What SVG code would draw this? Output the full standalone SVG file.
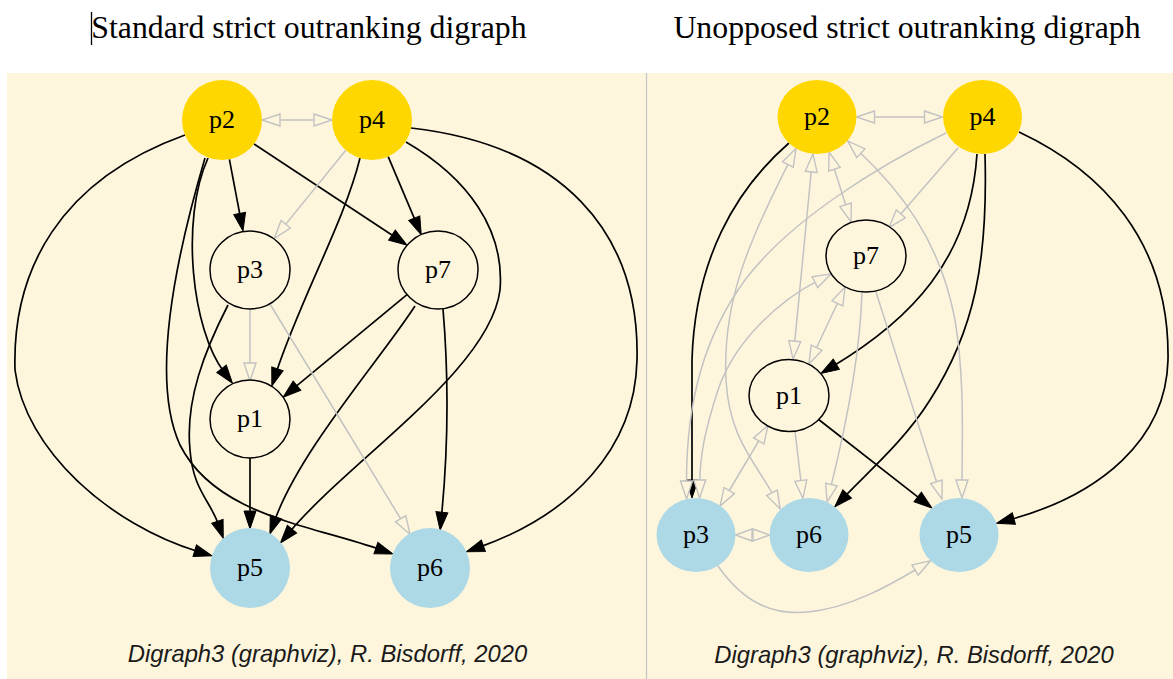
<svg xmlns="http://www.w3.org/2000/svg" width="1173" height="679" viewBox="0 0 1173 679">
<style>
.e{fill:none;stroke:#000;stroke-width:1.7;marker-end:url(#ab)}
.g{fill:none;stroke:#C2C2C2;stroke-width:1.5;marker-end:url(#ag)}
.g2{marker-start:url(#ag)}
.gs{fill:none;stroke:#C2C2C2;stroke-width:1.5;marker-start:url(#ags);marker-end:url(#ags)}
.lbl{font-family:"Liberation Serif","Times New Roman",serif;font-size:26px;text-anchor:middle;fill:#000}
.title{font-family:"Liberation Serif","Times New Roman",serif;font-size:31.8px;text-anchor:middle;fill:#000}
.cap{font-family:"Liberation Sans",Arial,sans-serif;font-style:italic;font-size:23.8px;text-anchor:middle;fill:#1a1a1a}
.gold{fill:#FFD700}
.blue{fill:#ADD8E6}
.out{fill:#FEF6DC;stroke:#000;stroke-width:1.5}
</style>
<defs>
<marker id="ab" markerUnits="userSpaceOnUse" viewBox="-1 -7 20 14" markerWidth="20" markerHeight="14" refX="4" refY="0" orient="auto-start-reverse" overflow="visible">
<path d="M0,-6 L18,0 L0,6 Z" fill="#000" stroke="#000" stroke-width="1"/>
</marker>
<marker id="ag" markerUnits="userSpaceOnUse" viewBox="-1 -7 20 14" markerWidth="20" markerHeight="14" refX="4" refY="0" orient="auto-start-reverse" overflow="visible">
<path d="M0,-6 L18,0 L0,6 Z" fill="#FEF6DC" stroke="#C2C2C2" stroke-width="1.4"/>
</marker>
<marker id="ags" markerUnits="userSpaceOnUse" viewBox="-1 -7 20 14" markerWidth="20" markerHeight="14" refX="0" refY="0" orient="auto-start-reverse" overflow="visible">
<path d="M0,-6 L16.5,0 L0,6 Z" fill="#FEF6DC" stroke="#C2C2C2" stroke-width="1.4"/>
</marker>
</defs>
<rect width="1173" height="679" fill="#fff"/>
<rect x="7" y="73" width="1166" height="606" fill="#FEF6DC"/>
<line x1="646.5" y1="73" x2="646.5" y2="679" stroke="#C4C4C8" stroke-width="1.2"/>
<line x1="91.5" y1="12" x2="91.5" y2="45" stroke="#000" stroke-width="1.3"/>
<text class="title" x="309" y="38">Standard strict outranking digraph</text>
<text class="title" x="907" y="38">Unopposed strict outranking digraph</text>
<text class="cap" x="327.5" y="662">Digraph3 (graphviz), R. Bisdorff, 2020</text>
<text class="cap" x="914" y="663">Digraph3 (graphviz), R. Bisdorff, 2020</text>
<g id="connectors">
<path class="e" d="M185,135 C60,180 12,270 15,370 C25,450 110,525 198.6,551.8"/>
<path class="e" d="M229.4,159.3 L240.4,217.3"/>
<path class="e" d="M254,144 L395.3,237.3"/>
<path class="e" d="M208,158 C180,220 192,330 224,372"/>
<path class="e" d="M205,158 C175,260 150,380 180,445 C215,515 310,525 379.7,549.4"/>
<path class="e" d="M360,158 C345,220 300,300 276.2,372.7"/>
<path class="e" d="M388.2,156.6 L415.8,221.9"/>
<path class="e" d="M406,142 C468,178 505,230 500,290 C490,370 350,460 289.4,532.2"/>
<path class="e" d="M411,128 C560,145 640,230 637,360 C635,450 570,515 479.6,547.1"/>
<path class="e" d="M228,305 C205,350 185,400 190,450 C193,490 210,500 218.7,525.1"/>
<path class="e" d="M407,294.6 L293.9,388.2"/>
<path class="e" d="M415,306 C380,360 300,450 274.6,520.8"/>
<path class="e" d="M443,309 C449,380 448,450 441.5,516.2"/>
<path class="e" d="M250,458 L250,515"/>
<path class="g g2" d="M276,120 L318,120"/>
<path class="g" d="M345.8,150.2 L283.2,227.4"/>
<path class="g" d="M250,309 L250,367"/>
<path class="g" d="M270,304 L402.7,522.2"/>
<path class="e" d="M789,143 C735,190 695,260 692,360 L692,484"/>
<path class="e" d="M977,154 C970,260 910,320 832.9,366.3"/>
<path class="e" d="M985,154 C988,260 975,330 930,400 C905,440 870,470 844.4,496.8"/>
<path class="e" d="M1019,132 C1100,170 1170,240 1168,360 C1166,440 1100,495 1010,519.6"/>
<path class="e" d="M818,419 L920.9,499.4"/>
<path class="g g2" d="M870.5,117 L928.5,117"/>
<path class="g" d="M946,133 C880,165 790,220 745,280 C705,335 686,400 686.5,485"/>
<path class="g" d="M958,148 L898.2,216.9"/>
<path class="g g2" d="M811.6,167.9 L794.4,345.1"/>
<path class="g g2" d="M833.2,165.4 L846.8,208.6"/>
<path class="g g2" d="M789.7,160.9 C750,240 722,300 726,380 C729,440 758,465 773.8,496.4"/>
<path class="g g2" d="M857.9,150.5 C900,190 940,240 955,320 C965,380 962,440 962,484"/>
<path class="g g2" d="M839.1,299.7 L814.9,351.3"/>
<path class="g g2" d="M818.5,280.3 C780,300 735,340 718,390 C705,430 700,455 699.7,484"/>
<path class="g g2" d="M760.8,437.5 L727.2,494"/>
<path class="gs" d="M752,535 L753,535"/>
<path class="g" d="M795,431 L801.3,484.5"/>
<path class="g" d="M862,292 C860,360 845,430 830.5,488.4"/>
<path class="g" d="M876,292 L937.7,485.6"/>
<path class="g" d="M718,566 C745,605 775,615 808,612 C850,608 890,585 918.5,568"/>
</g>
<g id="L-p2"><ellipse class="gold" cx="222" cy="120" rx="40" ry="40"/><text class="lbl" x="222" y="128">p2</text></g>
<g id="L-p4"><ellipse class="gold" cx="372" cy="120" rx="40" ry="40"/><text class="lbl" x="372" y="128">p4</text></g>
<g id="L-p3"><ellipse class="out" cx="250" cy="270" rx="40" ry="39"/><text class="lbl" x="250" y="278">p3</text></g>
<g id="L-p7"><ellipse class="out" cx="438" cy="270" rx="40" ry="39"/><text class="lbl" x="438" y="278">p7</text></g>
<g id="L-p1"><ellipse class="out" cx="250" cy="419" rx="40" ry="39"/><text class="lbl" x="250" y="427">p1</text></g>
<g id="L-p5"><ellipse class="blue" cx="250" cy="568" rx="40" ry="40"/><text class="lbl" x="250" y="576">p5</text></g>
<g id="L-p6"><ellipse class="blue" cx="430" cy="568" rx="40" ry="40"/><text class="lbl" x="430" y="576">p6</text></g>
<g id="R-p2"><ellipse class="gold" cx="817" cy="117" rx="39.5" ry="37"/><text class="lbl" x="817" y="125">p2</text></g>
<g id="R-p4"><ellipse class="gold" cx="982.5" cy="117" rx="39.5" ry="37"/><text class="lbl" x="982.5" y="125">p4</text></g>
<g id="R-p7"><ellipse class="out" cx="866" cy="256" rx="40" ry="36"/><text class="lbl" x="866" y="264">p7</text></g>
<g id="R-p1"><ellipse class="out" cx="789" cy="395.5" rx="40" ry="36"/><text class="lbl" x="789" y="403.5">p1</text></g>
<g id="R-p3"><ellipse class="blue" cx="696" cy="535" rx="39.5" ry="37"/><text class="lbl" x="696" y="543">p3</text></g>
<g id="R-p6"><ellipse class="blue" cx="809" cy="535" rx="39.5" ry="37"/><text class="lbl" x="809" y="543">p6</text></g>
<g id="R-p5"><ellipse class="blue" cx="959" cy="535" rx="39.5" ry="37"/><text class="lbl" x="959" y="543">p5</text></g>
</svg>
